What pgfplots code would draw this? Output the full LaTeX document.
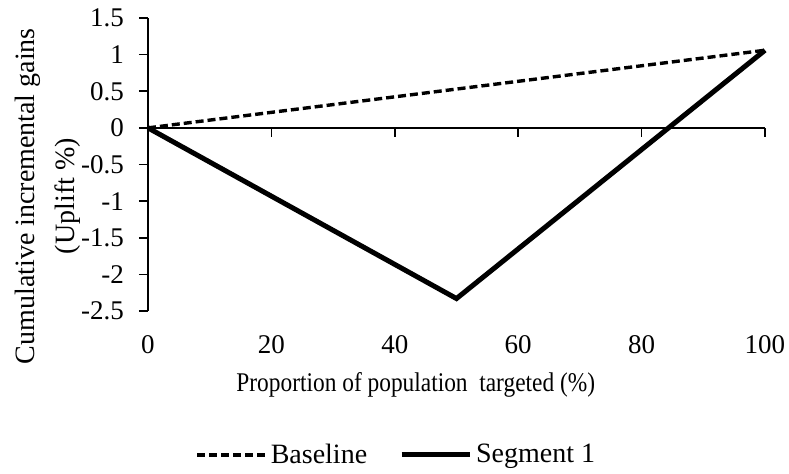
\documentclass[border=0pt]{standalone}
\usepackage{fontspec}
\setmainfont{Liberation Serif}
\newfontfamily\xlfont[FakeStretch=0.866]{Liberation Serif}
\usepackage{pgfplots}
\pgfplotsset{compat=1.18}
\begin{document}
\begin{tikzpicture}
\path[use as bounding box] (-74pt,-81pt) rectangle (320.5pt,155.5pt);
\begin{axis}[
  at={(0,0)}, anchor=south west,
  scale only axis, width=308.5pt, height=146.5pt,
  font=\fontsize{13.5}{16}\selectfont,
  /pgf/number format/assume math mode=true,
  xmin=0, xmax=100, ymin=-2.5, ymax=1.5,
  axis x line=middle, axis y line=left,
  hide obscured x ticks=false,
  axis line style={-, line width=0.8pt, black},
  xtick={0,20,...,100},
  ytick={-2.5,-2,...,1.5},
  yticklabels={-2.5,-2,-1.5,-1,-0.5,0,0.5,1,1.5},
  tick style={line width=0.8pt, black},
  xtick align=outside, ytick align=outside,
  major tick length=4.5pt,
  xticklabel style={anchor=center, yshift=-104pt},
  yticklabel style={xshift=-4pt},
  xlabel={\xlfont\fontsize{13.5}{15}\selectfont Proportion of population\ \ targeted (\%)},
  xlabel style={at={(axis description cs:0.434,-0.2526)}, anchor=center},
  ylabel={Cumulative incremental gains\\[5pt](Uplift \%)},
  ylabel style={at={(axis description cs:-0.162,0.392)}, anchor=center, align=center,
    font=\fontsize{14}{15}\selectfont},
  clip=false,
  legend columns=2,
  legend style={at={(axis description cs:0.404,-0.491)}, anchor=center, draw=none,
    font=\fontsize{14}{16}\selectfont,
    /tikz/every even column/.append style={column sep=14pt}},
  legend image code/.code={\draw[#1] (0pt,0pt) -- (34pt,0pt);},
]
\addplot[black, line width=1.7pt, dash pattern=on 4pt off 2pt] coordinates {(0,0) (100,1.06)};
\addlegendentry{Baseline}
\addplot[black, line width=2.5pt, line join=miter] coordinates {(0,0) (50,-2.33) (100,1.06)};
\addlegendentry{Segment 1}
\end{axis}
\end{tikzpicture}
\end{document}
